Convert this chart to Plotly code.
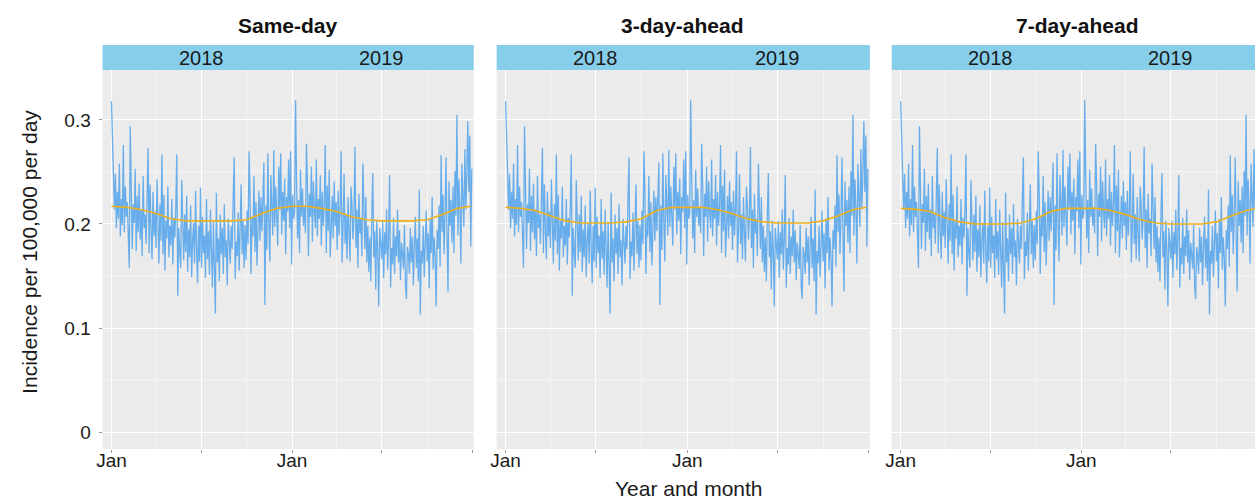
import pandas as pd
import plotly.graph_objects as go

# ---------------- data ----------------
start_date = "2018-01-01"
step_days = 2

# observed daily incidence (read every 2nd day), per 100,000 per day
incidence = [
    0.318, 0.285, 0.262, 0.214, 0.248, 0.196, 0.231, 0.205, 0.258, 0.188, 0.224, 0.199, 0.276, 0.192, 0.236,
    0.207, 0.221, 0.183, 0.158, 0.294, 0.242, 0.176, 0.219, 0.201, 0.253, 0.174, 0.227, 0.192, 0.239, 0.185,
    0.214, 0.169, 0.246, 0.196, 0.209, 0.181, 0.225, 0.273, 0.172, 0.238, 0.194, 0.166, 0.231, 0.188, 0.212,
    0.177, 0.243, 0.190, 0.162, 0.219, 0.184, 0.267, 0.171, 0.228, 0.155, 0.203, 0.186, 0.236, 0.168, 0.198,
    0.179, 0.224, 0.161, 0.206, 0.187, 0.215, 0.267, 0.131, 0.196, 0.172, 0.158, 0.242, 0.182, 0.165, 0.209,
    0.173, 0.227, 0.154, 0.195, 0.168, 0.218, 0.149, 0.184, 0.201, 0.162, 0.232, 0.176, 0.143, 0.198, 0.164,
    0.235, 0.158, 0.207, 0.172, 0.189, 0.148, 0.224, 0.166, 0.193, 0.151, 0.214, 0.175, 0.139, 0.202, 0.169,
    0.114, 0.230, 0.163, 0.186, 0.145, 0.209, 0.171, 0.196, 0.152, 0.219, 0.168, 0.184, 0.141, 0.205, 0.178,
    0.162, 0.198, 0.176, 0.226, 0.264, 0.147, 0.183, 0.169, 0.211, 0.155, 0.192, 0.238, 0.171, 0.203, 0.158,
    0.199, 0.165, 0.213, 0.181, 0.270, 0.229, 0.152, 0.207, 0.188, 0.246, 0.173, 0.221, 0.160, 0.196, 0.232,
    0.184, 0.226, 0.193, 0.241, 0.259, 0.122, 0.218, 0.175, 0.268, 0.201, 0.164, 0.247, 0.209, 0.189, 0.271,
    0.197, 0.236, 0.208, 0.179, 0.255, 0.214, 0.268, 0.190, 0.231, 0.203, 0.244, 0.171, 0.226, 0.212, 0.262,
    0.196, 0.270, 0.161, 0.228, 0.205, 0.211, 0.319, 0.243, 0.186, 0.223, 0.172, 0.252, 0.207, 0.234, 0.198,
    0.216, 0.191, 0.277, 0.238, 0.169, 0.229, 0.207, 0.255, 0.183, 0.241, 0.212, 0.196, 0.262, 0.188, 0.224,
    0.205, 0.247, 0.179, 0.231, 0.198, 0.219, 0.276, 0.172, 0.237, 0.193, 0.252, 0.168, 0.214, 0.227, 0.186,
    0.241, 0.198, 0.221, 0.175, 0.232, 0.189, 0.213, 0.270, 0.163, 0.196, 0.248, 0.181, 0.209, 0.166, 0.226,
    0.192, 0.164, 0.236, 0.218, 0.185, 0.207, 0.274, 0.177, 0.214, 0.158, 0.229, 0.191, 0.205, 0.169, 0.258,
    0.211, 0.176, 0.226, 0.163, 0.198, 0.154, 0.187, 0.145, 0.209, 0.249, 0.168, 0.193, 0.137, 0.203, 0.174,
    0.121, 0.196, 0.181, 0.166, 0.203, 0.148, 0.192, 0.171, 0.214, 0.156, 0.185, 0.247, 0.139, 0.177, 0.161,
    0.206, 0.152, 0.188, 0.169, 0.214, 0.163, 0.194, 0.146, 0.182, 0.171, 0.157, 0.199, 0.141, 0.128, 0.178,
    0.171, 0.152, 0.196, 0.163, 0.188, 0.141, 0.179, 0.207, 0.158, 0.186, 0.145, 0.233, 0.113, 0.174, 0.162,
    0.198, 0.149, 0.182, 0.213, 0.164, 0.191, 0.138, 0.205, 0.172, 0.226, 0.156, 0.187, 0.168, 0.121, 0.194,
    0.176, 0.218, 0.159, 0.266, 0.192, 0.228, 0.171, 0.209, 0.264, 0.187, 0.135, 0.241, 0.198, 0.223, 0.182,
    0.236, 0.172, 0.251, 0.208, 0.305, 0.189, 0.243, 0.215, 0.162, 0.258, 0.226, 0.197, 0.272, 0.214, 0.248,
    0.299, 0.231, 0.285, 0.178, 0.253,
]

# fitted (smoothed) incidence, first of each month
fit_months = ["2018-01-01", "2018-02-01", "2018-03-01", "2018-04-01", "2018-05-01", "2018-06-01",
              "2018-07-01", "2018-08-01", "2018-09-01", "2018-10-01", "2018-11-01", "2018-12-01",
              "2019-01-01", "2019-02-01", "2019-03-01", "2019-04-01", "2019-05-01", "2019-06-01",
              "2019-07-01", "2019-08-01", "2019-09-01", "2019-10-01", "2019-11-01", "2019-12-01",
              "2019-12-28"]
fit_same_day = [0.217, 0.216, 0.214, 0.210, 0.205, 0.203, 0.203, 0.203, 0.203, 0.204, 0.210, 0.215,
                0.217, 0.217, 0.215, 0.212, 0.207, 0.204, 0.203, 0.203, 0.203, 0.204, 0.209, 0.215, 0.217]
fit_3_day = [0.216, 0.215, 0.213, 0.208, 0.203, 0.201, 0.201, 0.201, 0.202, 0.205, 0.213, 0.216,
             0.216, 0.216, 0.214, 0.210, 0.205, 0.202, 0.201, 0.201, 0.201, 0.203, 0.208, 0.214, 0.216]
fit_7_day = [0.215, 0.214, 0.212, 0.206, 0.202, 0.200, 0.200, 0.200, 0.201, 0.205, 0.212, 0.215,
             0.215, 0.215, 0.213, 0.209, 0.204, 0.201, 0.200, 0.200, 0.200, 0.202, 0.208, 0.213, 0.216]

panel_titles = ["Same-day", "3-day-ahead", "7-day-ahead"]
strip_years = ["2018", "2019"]
strip_year_pos = ["2018-07-01", "2019-07-01"]
y_ticks = [0, 0.1, 0.2, 0.3]
y_tick_text = ["0", "0.1", "0.2", "0.3"]
x_ticks = ["2018-01-01", "2018-07-01", "2019-01-01", "2019-07-01", "2020-01-01"]
x_tick_text = ["Jan", "", "Jan", "", ""]
x_minor = ["2018-04-01", "2018-10-01", "2019-04-01", "2019-10-01"]

dates = pd.date_range(start_date, periods=len(incidence), freq=f"{step_days}D")
fits = [fit_same_day, fit_3_day, fit_7_day]

# ---------------- layout geometry ----------------
W, H = 1255, 499
def px(x):
    return x / W
def py(y):
    return 1 - y / H

domains = [(px(97), px(470)), (px(493), px(868)), (px(890), 1.0)]
x_ranges = [["2017-12-14", "2020-01-03"], ["2017-12-14", "2020-01-03"], ["2017-12-14", "2019-12-18"]]
y_dom = (py(449), py(70))
strip_y = (py(70), py(45))
panel_w = px(470) - px(97)

FONT = "Liberation Sans, Arial, sans-serif"
BLUE = "rgba(70,158,235,0.8)"
ORANGE = "#EDB120"

fig = go.Figure()
for i in range(3):
    sfx = "" if i == 0 else str(i + 1)
    fig.add_trace(go.Scatter(x=dates, y=incidence, mode="lines",
                             line=dict(color=BLUE, width=1.3), xaxis="x" + sfx, yaxis="y" + sfx,
                             showlegend=False, hoverinfo="skip"))
    fig.add_trace(go.Scatter(x=pd.to_datetime(fit_months), y=fits[i], mode="lines",
                             line=dict(color=ORANGE, width=1.6), xaxis="x" + sfx, yaxis="y" + sfx,
                             showlegend=False, hoverinfo="skip"))

layout = dict(
    width=W, height=H, margin=dict(l=0, r=0, t=0, b=0),
    paper_bgcolor="white", plot_bgcolor="#EBEBEB",
    font=dict(family=FONT, color="#1a1a1a"),
    showlegend=False,
)
for i in range(3):
    sfx = "" if i == 0 else str(i + 1)
    layout["xaxis" + sfx] = dict(
        domain=list(domains[i]), type="date", range=x_ranges[i],
        tickmode="array", tickvals=x_ticks, ticktext=x_tick_text,
        ticks="outside", ticklen=3, tickcolor="#9a9a9a", tickfont=dict(size=19, family=FONT, color="#1a1a1a"),
        ticklabelstandoff=-9,
        showgrid=True, gridcolor="white", gridwidth=1.1,
        minor=dict(tickmode="array", tickvals=x_minor, showgrid=True, gridcolor="#F5F5F5", gridwidth=0.6),
        zeroline=False, showline=False, anchor="y" + sfx, fixedrange=True,
    )
    layout["yaxis" + sfx] = dict(
        domain=list(y_dom), range=[-0.0163, 0.348],
        tickmode="array", tickvals=y_ticks, ticktext=y_tick_text,
        showticklabels=(i == 0), ticks="outside" if i == 0 else "", ticklen=3, tickcolor="#9a9a9a",
        tickfont=dict(size=19, family=FONT, color="#1a1a1a"),
        ticklabelstandoff=4,
        showgrid=True, gridcolor="white", gridwidth=1.1,
        minor=dict(tickmode="array", tickvals=[0.05, 0.15, 0.25], showgrid=True, gridcolor="#F5F5F5", gridwidth=0.6),
        zeroline=False, showline=False, anchor="x" + sfx, fixedrange=True,
    )
fig.update_layout(**layout)

shapes = []
annotations = []
for i in range(3):
    sfx = "" if i == 0 else str(i + 1)
    x0, x1 = domains[i]
    shapes.append(dict(type="rect", xref="paper", yref="paper", x0=x0, x1=x1,
                       y0=strip_y[0], y1=strip_y[1], fillcolor="#87CEEB", line=dict(width=0), layer="below"))
    annotations.append(dict(text=f"<b>{panel_titles[i]}</b>", xref="paper", yref="paper",
                            x=x0 + panel_w / 2, y=py(25), showarrow=False,
                            font=dict(size=21, family=FONT, color="#111"),
                            xanchor="center", yanchor="middle"))
    for yr, pos in zip(strip_years, strip_year_pos):
        annotations.append(dict(text=yr, xref="x" + sfx, yref="paper", x=pos, y=py(58),
                                showarrow=False, font=dict(size=20, family=FONT, color="#1a1a1a"),
                                xanchor="center", yanchor="middle"))

annotations.append(dict(text="Incidence per 100,000 per day", xref="paper", yref="paper",
                        x=px(24), y=py(252), textangle=-90, showarrow=False,
                        font=dict(size=21, family=FONT, color="#1a1a1a"),
                        xanchor="center", yanchor="middle"))
annotations.append(dict(text="Year and month", xref="paper", yref="paper",
                        x=px(686), y=py(488), showarrow=False,
                        font=dict(size=21, family=FONT, color="#1a1a1a"),
                        xanchor="center", yanchor="middle"))
fig.update_layout(shapes=shapes, annotations=annotations)

fig.write_html("out.html", config={"displayModeBar": False},
               post_script="document.body.style.margin='0';document.body.style.overflow='hidden';"
                           "document.documentElement.style.overflow='hidden';")
